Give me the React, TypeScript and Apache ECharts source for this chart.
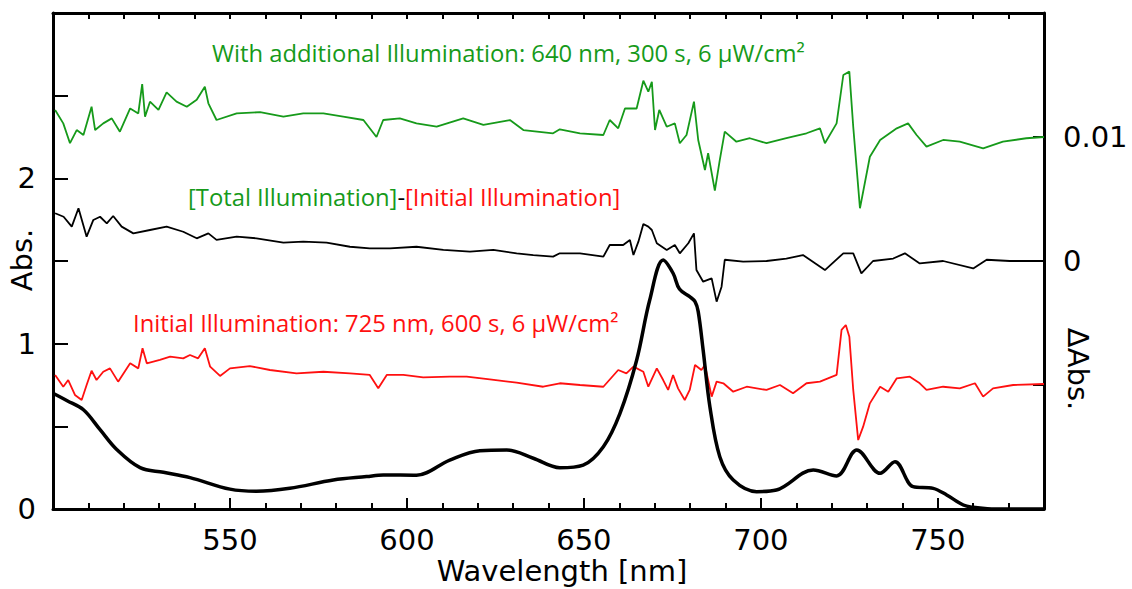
import React, { useEffect, useRef } from "react";
import * as echarts from "echarts";

// Absorbance spectrum (left axis, Abs.)
const absWavelength = [500, 504, 508.6, 513.3, 518, 524.6, 531.2, 538.7, 550, 557.5, 566.9, 579.2, 588.6, 593.3, 602.7, 612.1, 620.6, 628.2, 635.7, 643.2, 649.8, 655.5, 660.2, 664.9, 668.6, 672.4, 675.2, 677, 679.9, 681.4, 682.3, 683.7, 685.6, 688.4, 692.2, 698.8, 704.4, 714.8, 721.4, 727.1, 733.7, 737.9, 743, 748.7, 752.5, 757.2, 760, 764, 770, 780];
const absValues = [0.70, 0.655, 0.60, 0.48, 0.36, 0.25, 0.222, 0.19, 0.12, 0.107, 0.125, 0.175, 0.196, 0.206, 0.204, 0.296, 0.353, 0.357, 0.307, 0.25, 0.266, 0.377, 0.579, 0.90, 1.264, 1.506, 1.426, 1.33, 1.284, 1.254, 1.194, 0.96, 0.619, 0.316, 0.175, 0.105, 0.115, 0.236, 0.2, 0.357, 0.216, 0.286, 0.135, 0.125, 0.085, 0.024, 0.01, 0.002, 0, 0];

// ΔAbs, "With additional Illumination" (green, right axis, offset +0.01)
const greenWavelength = [500.6, 502.9, 504.8, 506.7, 508.6, 510.9, 511.9, 514.2, 516.6, 518.9, 521.8, 524.1, 525.2, 526, 527.4, 529.8, 532.1, 534.9, 537.8, 540.6, 542.9, 543.9, 546.2, 551.9, 558.5, 565.1, 570.7, 576.4, 582, 587.7, 591.4, 593.3, 598, 602.7, 608.4, 615.9, 621.6, 629.1, 632.9, 641.3, 643.2, 648.9, 655.5, 657.3, 659.7, 661.6, 664.9, 666.8, 668.2, 669.2, 670.1, 671.3, 673.4, 675.7, 677.1, 679, 681.1, 682.3, 684.2, 685.1, 687, 688.4, 689.8, 693.1, 696.9, 701.6, 707.2, 712.9, 716.7, 718.1, 721.4, 723.3, 725, 726.1, 728, 730.8, 733.7, 738.4, 741.6, 744, 746.8, 751.5, 756.2, 762.8, 768.4, 775, 780];
const greenValues = [0.01218, 0.0111, 0.0095, 0.01056, 0.01016, 0.01244, 0.01056, 0.0111, 0.0115, 0.01043, 0.0123, 0.0119, 0.01427, 0.01164, 0.01285, 0.01218, 0.0136, 0.01285, 0.01244, 0.013, 0.01406, 0.01272, 0.01137, 0.0119, 0.012, 0.01164, 0.0119, 0.0119, 0.01164, 0.01137, 0.01, 0.01137, 0.0115, 0.0111, 0.01083, 0.0115, 0.01097, 0.01137, 0.01056, 0.0103, 0.01062, 0.0103, 0.01016, 0.01137, 0.0107, 0.0123, 0.0123, 0.01454, 0.01365, 0.01446, 0.01056, 0.01218, 0.01083, 0.0111, 0.0095, 0.01016, 0.01285, 0.00976, 0.00734, 0.00869, 0.00567, 0.00815, 0.01043, 0.00962, 0.0099, 0.0095, 0.0099, 0.0103, 0.0107, 0.0095, 0.0111, 0.015, 0.01527, 0.01083, 0.00425, 0.00841, 0.00976, 0.0107, 0.0111, 0.01016, 0.00922, 0.00976, 0.00962, 0.00909, 0.00962, 0.0099, 0.01];

// ΔAbs, [Total]-[Initial] (thin black, right axis, offset 0)
const diffWavelength = [500.6, 503, 505.3, 507.2, 509.5, 511.4, 513.3, 515.2, 517, 519.4, 522.7, 527.4, 532.1, 536.8, 540.6, 543.9, 546.2, 551.9, 557.5, 565.1, 570.7, 577.3, 583.9, 589.5, 595.2, 602.7, 610.3, 617.8, 624.4, 631, 635.7, 641.3, 643.2, 648.9, 655.5, 657.3, 661.1, 663, 664, 665.4, 666.8, 668.2, 669.2, 670.6, 673.4, 675.7, 677.1, 679.5, 681.1, 681.8, 683.7, 686.1, 687.5, 688.9, 689.8, 695, 701.6, 707.2, 711.9, 718.1, 723.3, 726.1, 728.4, 731.7, 737.4, 740.7, 744.9, 751.5, 760, 763.8, 770.3, 780];
const diffValues = [0.00385, 0.00357, 0.00277, 0.00425, 0.00196, 0.00331, 0.00357, 0.00304, 0.00363, 0.00277, 0.00223, 0.0025, 0.00277, 0.00236, 0.00183, 0.00223, 0.0017, 0.00196, 0.00183, 0.00148, 0.00156, 0.00148, 0.00115, 0.00102, 0.00102, 0.00115, 0.00089, 0.00075, 0.00089, 0.00062, 0.00048, 0.00035, 0.00062, 0.00062, 0.00035, 0.00129, 0.00129, 0.0017, 0.00048, 0.00156, 0.00298, 0.00277, 0.0025, 0.00143, 0.00089, 0.00129, 0.00062, 0.00143, 0.00223, -0.00073, -0.00167, -0.0014, -0.00328, -0.00207, 0.0001, -0.00005, 0, 0.0002, 0.00048, -0.00073, 0.00062, 0.00062, -0.001, 0, 0.0002, 0.00062, -0.0002, 0, -0.0006, 0.0001, 0, 0];

// ΔAbs, "Initial Illumination" (red, right axis, offset -0.01)
const redWavelength = [500.6, 502.9, 504.3, 506.2, 508.1, 509.5, 510.9, 512.3, 514.2, 516.1, 518.4, 521.8, 524.1, 525.3, 526.5, 530.2, 533.1, 536.8, 538.7, 541, 542.9, 544.4, 547.2, 550, 555.6, 561.3, 568.8, 576.4, 583.9, 589.5, 591.9, 594.3, 599, 604.6, 612.1, 616.9, 623.4, 631, 638.5, 643.2, 648.9, 655.5, 659.7, 662, 664, 666.8, 668.2, 670.6, 672.4, 673.8, 675.2, 676.6, 678.5, 679.9, 681.4, 683.2, 684.2, 686.1, 687.5, 689.4, 692.2, 696, 701.6, 705.4, 709.1, 712.9, 716.7, 721.4, 722.8, 724, 725, 726.1, 727.5, 728.9, 730.8, 733.7, 736, 738.4, 742.1, 744.9, 746.8, 751.5, 756.2, 760.5, 762.8, 765.6, 771.3, 780];
const redValues = [-0.00919, -0.01014, -0.0096, -0.0108, -0.01121, -0.01, -0.00885, -0.0096, -0.00893, -0.00866, -0.00973, -0.00825, -0.00866, -0.00704, -0.00825, -0.00798, -0.00772, -0.00785, -0.00758, -0.00785, -0.00704, -0.00852, -0.00927, -0.00866, -0.00847, -0.00879, -0.00906, -0.00893, -0.00906, -0.00919, -0.01027, -0.00919, -0.00919, -0.00938, -0.00933, -0.00933, -0.00954, -0.00981, -0.01014, -0.00986, -0.01, -0.01014, -0.00879, -0.00906, -0.00852, -0.00893, -0.01014, -0.00866, -0.0096, -0.0104, -0.00919, -0.01027, -0.01121, -0.0104, -0.00839, -0.00879, -0.00839, -0.01094, -0.00973, -0.00986, -0.01054, -0.01014, -0.0104, -0.01, -0.01067, -0.00986, -0.00973, -0.00919, -0.00556, -0.00516, -0.0061, -0.0104, -0.01444, -0.01336, -0.01148, -0.01014, -0.01054, -0.00946, -0.00933, -0.00986, -0.0104, -0.01014, -0.01027, -0.00986, -0.01094, -0.01027, -0.01, -0.00992];

const xTickLabels = [550, 600, 650, 700, 750];
const leftTickLabels = [0, 1, 2];
const rightTickLabels = ["0", "0.01"];

const GREEN = "#169a1a";
const RED = "#ff1010";
const AXIS_FONT = "DejaVu Sans";
const NOTE_FONT = "Open Sans";
const NOTE_SIZE = 23.8;

const pair = (xs: number[], ys: number[]) => xs.map((x, i) => [x, ys[i]]);

export default function App() {
  const ref = useRef<HTMLDivElement>(null);
  useEffect(() => {
    const chart = echarts.init(ref.current!, null, { renderer: "svg" });
    const axisLabelBase = { fontFamily: AXIS_FONT, fontSize: 29, color: "#000" };
    const line = (show: boolean) => ({ show, onZero: false, lineStyle: { color: "#000", width: 3 } });
    const option: any = {
      animation: false,
      backgroundColor: "#fff",
      grid: { left: 53, right: 88, top: 13, bottom: 80, containLabel: false, outerBoundsMode: "none" },
      xAxis: [
        {
          type: "value", position: "bottom", min: 500, max: 780, interval: 10,
          axisLine: line(true),
          axisTick: { show: true, inside: true, length: 6, lineStyle: { color: "#000", width: 2 } },
          axisLabel: { show: false }, splitLine: { show: false },
        },
        {
          type: "value", position: "bottom", min: 500, max: 780, interval: 50,
          axisLine: line(false),
          axisTick: { show: true, inside: true, length: 11, lineStyle: { color: "#000", width: 2 } },
          axisLabel: {
            ...axisLabelBase, margin: 16,
            formatter: (v: number) => (xTickLabels.includes(v) ? String(v) : ""),
          },
          splitLine: { show: false },
        },
        {
          type: "value", position: "top", min: 500, max: 780, interval: 10,
          axisLine: line(true),
          axisTick: { show: true, inside: true, length: 6, lineStyle: { color: "#000", width: 2 } },
          axisLabel: { show: false }, splitLine: { show: false },
        },
      ],
      yAxis: [
        {
          type: "value", position: "left", min: 0, max: 3, interval: 0.5,
          axisLine: line(true),
          axisTick: { show: true, inside: true, length: 15, lineStyle: { color: "#000", width: 2 } },
          axisLabel: {
            ...axisLabelBase, margin: 17,
            formatter: (v: number) => (leftTickLabels.some((t) => Math.abs(t - v) < 1e-9) ? String(Math.round(v)) : ""),
          },
          splitLine: { show: false },
        },
        {
          type: "value", position: "right", min: -0.02, max: 0.02, interval: 0.01,
          axisLine: line(true),
          axisTick: { show: true, inside: true, length: 11, lineStyle: { color: "#000", width: 2 } },
          axisLabel: {
            ...axisLabelBase, margin: 19,
            formatter: (v: number) => {
              const s = Math.abs(v) < 1e-9 ? "0" : Math.abs(v - 0.01) < 1e-9 ? "0.01" : "";
              return rightTickLabels.includes(s) ? s : "";
            },
          },
          splitLine: { show: false },
        },
      ],
      series: [
        {
          type: "line", name: "Abs", xAxisIndex: 0, yAxisIndex: 0, data: pair(absWavelength, absValues),
          showSymbol: false, smooth: 0.35, lineStyle: { color: "#000", width: 3.5 }, z: 5,
        },
        {
          type: "line", name: "Additional", xAxisIndex: 0, yAxisIndex: 1, data: pair(greenWavelength, greenValues),
          showSymbol: false, lineStyle: { color: GREEN, width: 1.8 }, z: 4,
        },
        {
          type: "line", name: "Difference", xAxisIndex: 0, yAxisIndex: 1, data: pair(diffWavelength, diffValues),
          showSymbol: false, lineStyle: { color: "#000", width: 1.8 }, z: 4,
        },
        {
          type: "line", name: "Initial", xAxisIndex: 0, yAxisIndex: 1, data: pair(redWavelength, redValues),
          showSymbol: false, lineStyle: { color: RED, width: 1.8 }, z: 4,
        },
      ],
      graphic: [
        {
          type: "text", x: 212, y: 53, z: 10,
          style: {
            text: "With additional Illumination: 640 nm, 300 s, 6 μW/cm²",
            fill: GREEN, font: `${NOTE_SIZE}px "${NOTE_FONT}"`, textAlign: "left", textVerticalAlign: "middle",
          },
        },
        {
          type: "text", x: 188, y: 197, z: 10,
          style: {
            text: "{g|[Total Illumination]}{k|-}{r|[Initial Illumination]}",
            font: `${NOTE_SIZE}px "${NOTE_FONT}"`, textAlign: "left", textVerticalAlign: "middle",
            rich: {
              g: { fill: GREEN, fontFamily: NOTE_FONT, fontSize: NOTE_SIZE },
              k: { fill: "#000", fontFamily: NOTE_FONT, fontSize: NOTE_SIZE },
              r: { fill: RED, fontFamily: NOTE_FONT, fontSize: NOTE_SIZE },
            },
          },
        },
        {
          type: "text", x: 133, y: 323, z: 10,
          style: {
            text: "Initial Illumination: 725 nm, 600 s, 6 μW/cm²",
            fill: RED, font: `${NOTE_SIZE}px "${NOTE_FONT}"`, textAlign: "left", textVerticalAlign: "middle",
          },
        },
        {
          type: "text", x: 22, y: 260, rotation: Math.PI / 2, z: 10,
          style: { text: "Abs.", fill: "#000", font: `29px "${AXIS_FONT}"`, textAlign: "center", textVerticalAlign: "middle" },
        },
        {
          type: "text", x: 1078, y: 369, rotation: -Math.PI / 2, z: 10,
          style: { text: "ΔAbs.", fill: "#000", font: `29px "${AXIS_FONT}"`, textAlign: "center", textVerticalAlign: "middle" },
        },
        {
          type: "text", x: 562, y: 571, z: 10,
          style: { text: "Wavelength [nm]", fill: "#000", font: `29px "${AXIS_FONT}"`, textAlign: "center", textVerticalAlign: "middle" },
        },
      ],
    };
    chart.setOption(option);
    return () => chart.dispose();
  }, []);
  return (
    <div
      ref={ref}
      style={{ position: "fixed", left: 0, top: 0, width: 1132, height: 589, background: "#fff" }}
    />
  );
}
